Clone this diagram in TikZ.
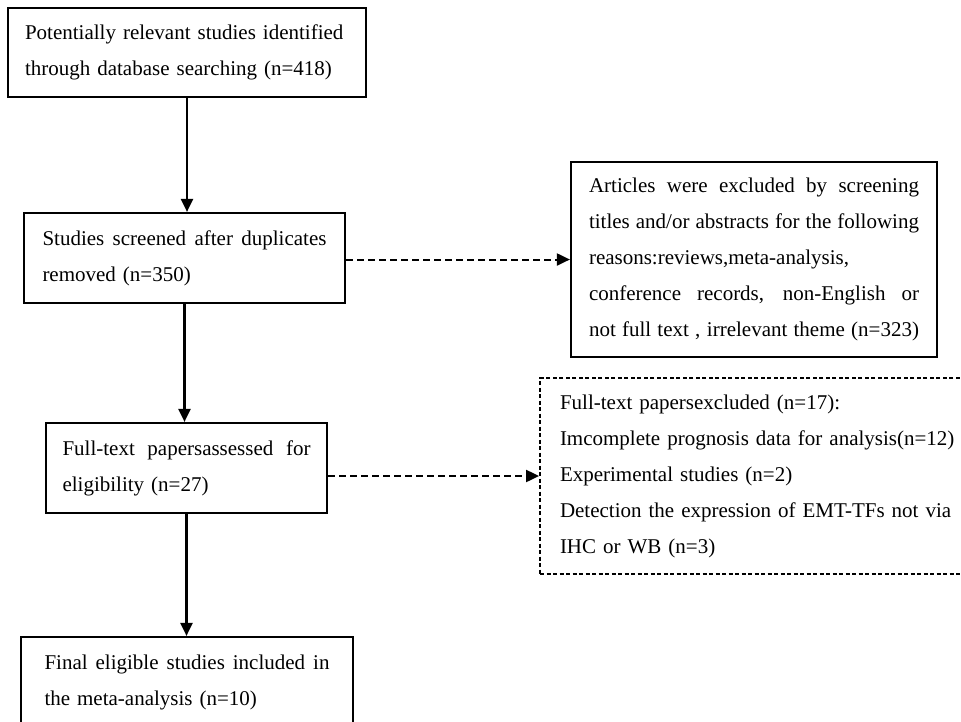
\documentclass[tikz,border=0pt]{standalone}
\usepackage{fontspec}
\setmainfont{Liberation Serif}
\usetikzlibrary{arrows.meta}
\newcommand{\fillline}[1]{{\spaceskip=0pt\xspaceskip=0pt\makebox[\hsize][s]{#1}}}

\begin{document}
\begin{tikzpicture}[x=1pt, y=-1pt, >={Triangle[length=13pt,width=12pt]},
    box/.style={draw, line width=2.2pt, inner sep=0pt, align=left, font=\fontsize{21}{36}\selectfont},
    dashbox/.style={box, line width=1.8pt, dash pattern=on 4pt off 2.5pt},
    arr/.style={->, line width=2.2pt},
    dasharr/.style={->, line width=2pt, dash pattern=on 7pt off 4pt}]
    \useasboundingbox (0,0) rectangle (961,721);

    % Main column
    \node[box, minimum width=358pt, minimum height=89pt, text width=324pt] (search) at (187, 52.5)
        {Potentially relevant studies identified\\ through database searching (n=418)};
    \node[box, minimum width=321pt, minimum height=90pt, text width=284pt] (screen) at (184.5, 258)
        {\fillline{Studies screened after duplicates}\\ removed (n=350)};
    \node[box, minimum width=281pt, minimum height=90pt, text width=248pt] (full) at (186.5, 468)
        {\fillline{Full-text papersassessed for}\\ eligibility (n=27)};
    \node[box, minimum width=332pt, minimum height=90pt, text width=285pt] (final) at (187, 682)
        {\fillline{Final eligible studies included in}\\ the meta-analysis (n=10)};

    % Exclusion boxes
    \node[box, minimum width=366pt, minimum height=195pt, text width=330pt] (excl1) at (754, 259.5)
        {\fillline{Articles were excluded by screening}\\
         \fillline{titles and/or abstracts for the following}\\
         reasons:reviews,meta-analysis,\\
         \fillline{conference records, non-English or}\\
         \fillline{not full text , irrelevant theme (n=323)}};
    \node[dashbox, minimum width=440pt, minimum height=196pt, text width=400pt] (excl2) at (760, 476)
        {Full-text papersexcluded (n=17):\\
         Imcomplete prognosis data for analysis(n=12)\\
         Experimental studies (n=2)\\
         Detection the expression of EMT-TFs not via\\
         IHC or WB (n=3)};

    % Arrows
    \draw[arr] (search.south) -- (search.south |- screen.north);
    \draw[arr] (screen.south) -- (screen.south |- full.north);
    \draw[arr] (full.south) -- (full.south |- final.north);
    \draw[dasharr] (screen.east |- excl1.west) -- (excl1.west);
    \draw[dasharr] (full.east |- excl2.west) -- (excl2.west);
\end{tikzpicture}
\end{document}
